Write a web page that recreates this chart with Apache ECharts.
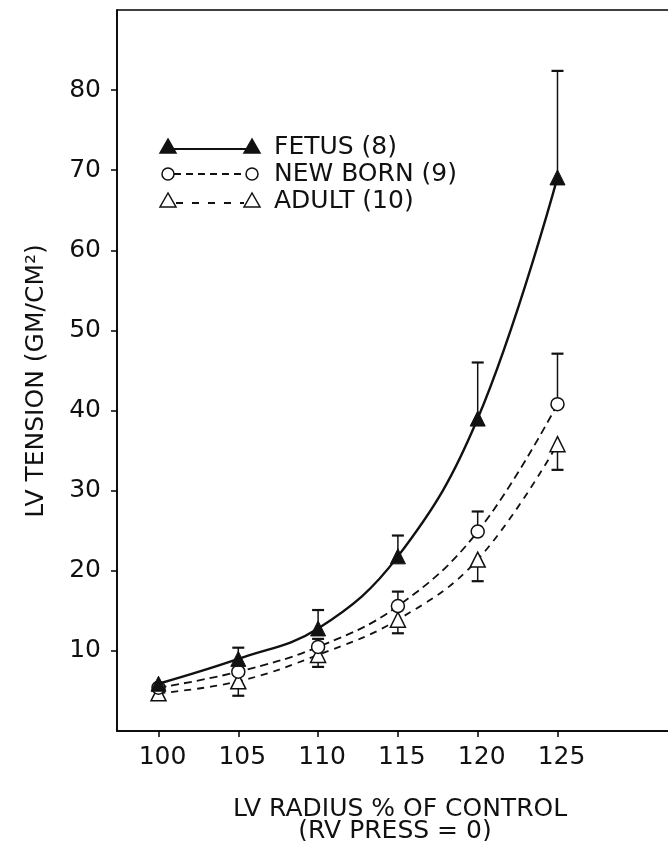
<!DOCTYPE html>
<html><head><meta charset="utf-8">
<script src="https://cdn.jsdelivr.net/npm/echarts@6/dist/echarts.min.js"></script>
<style>html,body{margin:0;padding:0;background:#fff}#c{width:668px;height:841px}</style>
</head><body><div id="c"></div>
<script>
// ---- data ----
const radius = [100, 105, 110, 115, 120, 125];
const fetus = [5.9, 9.0, 12.8, 21.8, 39.0, 69.1];
const fetusErr = [0, 1.4, 2.3, 2.6, 7.0, 13.3];
const newborn = [5.4, 7.4, 10.5, 15.6, 24.9, 40.8];
const newbornErr = [0, 0, 1.0, 1.8, 2.5, 6.3];
const adult = [4.7, 6.2, 9.5, 13.9, 21.4, 35.8];
const adultErr = [0, 1.8, 1.5, 1.7, 2.7, 3.2];
const xTicks = [100, 105, 110, 115, 120, 125];
const yTicks = [10, 20, 30, 40, 50, 60, 70, 80];
const legendNames = ['FETUS (8)', 'NEW BORN (9)', 'ADULT (10)'];

const FONT = 'DejaVu Sans';
const INK = '#111';

function pairs(vals) { return radius.map((r, i) => [r, vals[i]]); }

function errSeries(name, vals, errs, dir) {
  return {
    type: 'custom', name: name, z: 1, silent: true,
    data: radius.map((r, i) => [r, vals[i], errs[i]]),
    renderItem: function (params, api) {
      const x = api.value(0), v = api.value(1), e = api.value(2);
      if (!e) return null;
      const p0 = api.coord([x, v]);
      const p1 = api.coord([x, v + dir * e]);
      const w = 6;
      return {
        type: 'group', children: [
          { type: 'line', shape: { x1: p0[0], y1: p0[1], x2: p1[0], y2: p1[1] }, style: { stroke: INK, lineWidth: 1.5 } },
          { type: 'line', shape: { x1: p1[0] - w, y1: p1[1], x2: p1[0] + w, y2: p1[1] }, style: { stroke: INK, lineWidth: 2.2 } }
        ]
      };
    }
  };
}

const chart = echarts.init(document.getElementById('c'));

// legend drawn as graphic (icon with symbol at both ends)
function tri(cx, cy, filled) {
  return { type: 'polygon', shape: { points: [[cx, cy - 8], [cx - 8, cy + 6], [cx + 8, cy + 6]] },
    style: { fill: filled ? INK : '#fff', stroke: INK, lineWidth: 1.5 }, z: 10 };
}
function circ(cx, cy) {
  return { type: 'circle', shape: { cx: cx, cy: cy, r: 6 }, style: { fill: '#fff', stroke: INK, lineWidth: 1.5 }, z: 10 };
}
function lline(x1, x2, y, dash, w) {
  return { type: 'line', shape: { x1: x1, y1: y, x2: x2, y2: y }, style: { stroke: INK, lineWidth: w, lineDash: dash }, z: 9 };
}
function ltext(t, y) {
  return { type: 'text', x: 274, y: y, style: { text: t, fontFamily: FONT, fontSize: 25, fill: INK, verticalAlign: 'middle', align: 'left' }, z: 10 };
}
const L1 = 147, L2 = 174, L3 = 201, LX1 = 168, LX2 = 252;

const option = {
  animation: false,
  backgroundColor: '#fff',
  grid: { left: 117, top: 10, width: 558.6, height: 721, outerBoundsMode: 'none', containLabel: false,
    show: true, borderColor: '#000', borderWidth: 1.5, backgroundColor: 'transparent' },
  xAxis: {
    type: 'value', min: 97.4, max: 132.4,
    axisLine: { show: true, lineStyle: { color: '#000', width: 1.5 } },
    axisTick: { show: true, customValues: xTicks, length: 6, lineStyle: { color: '#000', width: 1.5 } },
    axisLabel: { customValues: xTicks, fontFamily: FONT, fontSize: 25, color: INK, margin: 14, padding: [0, 0, 0, 8] },
    splitLine: { show: false }
  },
  yAxis: {
    type: 'value', min: 0, max: 90,
    axisLine: { show: true, lineStyle: { color: '#000', width: 1.5 } },
    axisTick: { show: true, customValues: yTicks, length: 6, lineStyle: { color: '#000', width: 1.5 } },
    axisLabel: { customValues: yTicks, fontFamily: FONT, fontSize: 25, color: INK, margin: 16 },
    splitLine: { show: false }
  },
  graphic: [
    { type: 'text', x: 36, y: 381, rotation: Math.PI / 2,
      style: { text: 'LV TENSION (GM/CM²)', fontFamily: FONT, fontSize: 25, fill: INK, align: 'center', verticalAlign: 'middle' } },
    { type: 'text', x: 400, y: 809,
      style: { text: 'LV RADIUS % OF CONTROL', fontFamily: FONT, fontSize: 25, fill: INK, align: 'center', verticalAlign: 'middle' } },
    { type: 'text', x: 395, y: 831,
      style: { text: '(RV PRESS = 0)', fontFamily: FONT, fontSize: 25, fill: INK, align: 'center', verticalAlign: 'middle' } },
    lline(LX1, LX2, L1 + 2, null, 2.2), tri(LX1, L1, true), tri(LX2, L1, true), ltext(legendNames[0], L1),
    lline(LX1 + 6, LX2 - 6, L2, [7, 5], 1.8), circ(LX1, L2), circ(LX2, L2), ltext(legendNames[1], L2),
    lline(LX1 + 8, LX2 - 8, L3 + 2, [7, 9], 1.8), tri(LX1, L3, false), tri(LX2, L3, false), ltext(legendNames[2], L3)
  ],
  series: [
    errSeries('fetusErr', fetus, fetusErr, 1),
    errSeries('newbornErr', newborn, newbornErr, 1),
    errSeries('adultErr', adult, adultErr, -1),
    { type: 'line', name: legendNames[2], data: pairs(adult), smooth: 0.4, z: 2,
      symbol: 'triangle', symbolSize: 15,
      lineStyle: { color: INK, width: 1.8, type: [7, 6] },
      itemStyle: { color: '#fff', borderColor: INK, borderWidth: 1.5 } },
    { type: 'line', name: legendNames[1], data: pairs(newborn), smooth: 0.4, z: 3,
      symbol: 'circle', symbolSize: 13,
      lineStyle: { color: INK, width: 1.8, type: [8, 5] },
      itemStyle: { color: '#fff', borderColor: INK, borderWidth: 1.5 } },
    { type: 'line', name: legendNames[0], data: pairs(fetus), smooth: 0.4, z: 4,
      symbol: 'triangle', symbolSize: 15,
      lineStyle: { color: INK, width: 2.4 },
      itemStyle: { color: INK, borderColor: INK, borderWidth: 1 } }
  ]
};
chart.setOption(option);
</script>
</body></html>
